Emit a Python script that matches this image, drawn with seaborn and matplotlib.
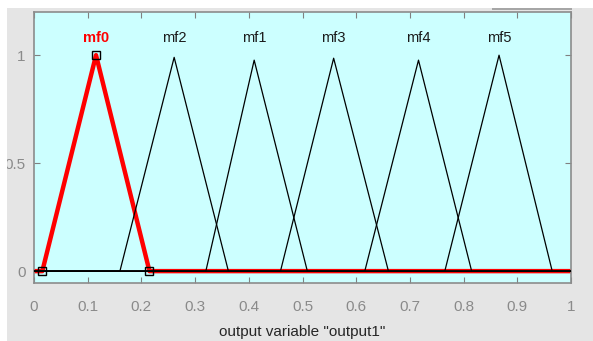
import matplotlib
matplotlib.use("Agg")
import matplotlib.pyplot as plt
from matplotlib.patches import Rectangle
import seaborn as sns
import pandas as pd

# ---- data ----
mf_names = ["mf0", "mf2", "mf1", "mf3", "mf4", "mf5"]
mf_left = [0.0155, 0.160, 0.320, 0.459, 0.616, 0.765]
mf_peak = [0.1155, 0.261, 0.410, 0.558, 0.716, 0.866]
mf_right = [0.215, 0.362, 0.509, 0.660, 0.815, 0.965]
mf_height = [1.0, 0.99, 0.977, 0.986, 0.977, 1.0]
x_range = [0.0, 1.0]
selected = "mf0"
x_ticks = [0, 0.1, 0.2, 0.3, 0.4, 0.5, 0.6, 0.7, 0.8, 0.9, 1]
y_ticks = [0, 0.5, 1]
x_label = 'output variable "output1"'

rows = []
for n, a, b, c, h in zip(mf_names, mf_left, mf_peak, mf_right, mf_height):
    xs = [x_range[0], a, b, c, x_range[1]]
    ys = [0, 0, h, 0, 0]
    for k, (xx, yy) in enumerate(zip(xs, ys)):
        rows.append({"mf": n, "x": xx, "mu": yy, "order": k})
df = pd.DataFrame(rows)

sns.set_style("white")
plt.rcParams["font.family"] = ["Liberation Sans", "DejaVu Sans"]

fig = plt.figure(figsize=(5.93, 3.41), dpi=100)
fig.patch.set_facecolor("#e5e5e5")
ax = fig.add_axes([34 / 593, 1 - 283 / 341, 537 / 593, 271 / 341])
ax.set_facecolor("#ccffff")

sel = df[df.mf == selected]
others = df[df.mf != selected]
sns.lineplot(data=sel, x="x", y="mu", sort=False, estimator=None,
             color="#ff0000", lw=3.2, ax=ax, zorder=2)
sns.lineplot(data=others, x="x", y="mu", units="mf", sort=False, estimator=None,
             color="black", lw=0.9, ax=ax, zorder=3)

# vertex squares of selected mf
i = mf_names.index(selected)
sq = pd.DataFrame({"x": [mf_left[i], mf_peak[i], mf_right[i]],
                   "mu": [0, mf_height[i], 0]})
ax.plot(sq.x, sq.mu, ls="none", marker="s", ms=5.2, mfc="none",
        mec="black", mew=1.0, zorder=4, clip_on=False)

for n, b in zip(mf_names, mf_peak):
    if n == selected:
        ax.text(b, 1.08, n, ha="center", va="center", fontsize=10.5,
                color="#ff0000", fontweight="bold")
    else:
        ax.text(b, 1.08, n, ha="center", va="center", fontsize=10.5,
                color="#1a1a1a")

ax.set_xlim(0, 1)
ax.set_ylim(-0.055, 1.2)
ax.set_xticks(x_ticks)
ax.set_xticklabels([f"{t:g}" for t in x_ticks])
ax.set_yticks(y_ticks)
ax.set_yticklabels([f"{t:g}" for t in y_ticks])
ax.tick_params(axis="both", direction="in", length=4, width=0.8,
               color="#808080", labelcolor="#8a8a8a", labelsize=11,
               top=True, right=True, bottom=True, left=True)
ax.tick_params(axis="x", pad=12)
ax.tick_params(axis="y", pad=6)
for s in ax.spines.values():
    s.set_color("#8c8c8c")
    s.set_linewidth(1.2)
ax.set_ylabel("")
ax.set_xlabel(x_label, fontsize=11, color="#262626", labelpad=8)

# window decorations
fig.add_artist(Rectangle((0, 1 - 8 / 341), 1, 8 / 341, transform=fig.transFigure,
                         facecolor="white", edgecolor="none", zorder=10))
fig.add_artist(Rectangle((0, 0), 7 / 593, 1, transform=fig.transFigure,
                         facecolor="white", edgecolor="none", zorder=10))
fig.add_artist(Rectangle((492 / 593, 1 - 10 / 341), 80 / 593, 2 / 341,
                         transform=fig.transFigure, facecolor="#a6a6a6",
                         edgecolor="none", zorder=11))

fig.savefig("out.png", dpi=100, facecolor=fig.get_facecolor())
